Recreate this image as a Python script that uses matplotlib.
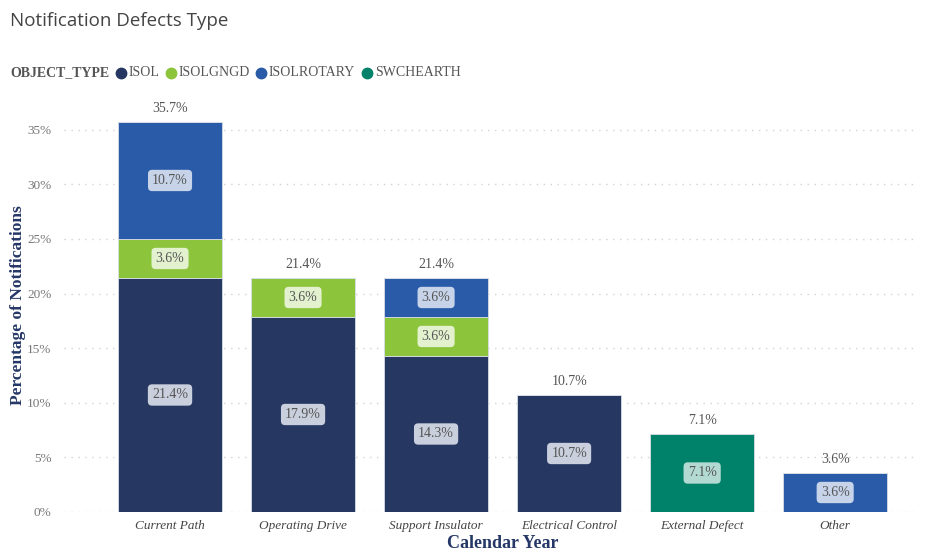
import matplotlib.pyplot as plt
from matplotlib.lines import Line2D
import numpy as np

# notification counts per defect type, split by object type
categories = ["Current Path", "Operating Drive", "Support Insulator",
              "Electrical Control", "External Defect", "Other"]
object_types = ["ISOL", "ISOLGNGD", "ISOLROTARY", "SWCHEARTH"]
isol = [6, 5, 4, 3, 0, 0]
isolgngd = [1, 1, 1, 0, 0, 0]
isolrotary = [3, 0, 1, 0, 0, 1]
swchearth = [0, 0, 0, 0, 2, 0]
total_notifications = 28
y_ticks = [0, 5, 10, 15, 20, 25, 30, 35]

colors = ["#263862", "#8cc43c", "#2a5ba8", "#00826a"]
label_bg = ["#c9cfdc", "#e3f1cf", "#c6d3e8", "#b3dad2"]

series = [isol, isolgngd, isolrotary, swchearth]
pct = [np.array(s) / total_notifications * 100 for s in series]

serif = ["Liberation Serif", "DejaVu Serif"]
plt.rcParams["font.family"] = serif

fig = plt.figure(figsize=(9.28, 5.52), dpi=100)
ax = fig.add_axes([64 / 928, 40 / 552, 851 / 928, 415 / 552])

x = np.arange(len(categories))
bottom = np.zeros(len(categories))
for vals, col, bg in zip(pct, colors, label_bg):
    ax.bar(x, vals, width=0.78, bottom=bottom, color=col,
           edgecolor="#d8dde6", linewidth=0.6, zorder=2)
    for xi, v, b in zip(x, vals, bottom):
        if v > 0:
            ax.text(xi, b + v / 2, f"{v:.1f}%", ha="center", va="center",
                    fontsize=10, color="#555555", zorder=3,
                    bbox=dict(boxstyle="round,pad=0.3,rounding_size=0.3",
                              fc=bg, ec="none"))
    bottom += vals

for xi, t in zip(x, bottom):
    ax.annotate(f"{t:.1f}%", (xi, t), xytext=(0, 5), textcoords="offset points",
                ha="center", va="bottom", fontsize=10, color="#555555")

ax.set_xlim(-0.797, 5.6)
ax.set_ylim(0, 38)
ax.set_yticks(y_ticks)
ax.set_yticklabels([f"{t}%" for t in y_ticks], fontsize=9.5, color="#777777")
ax.set_xticks(x)
ax.set_xticklabels(categories, fontsize=9.5, color="#444444", style="italic")
ax.tick_params(length=0, pad=6)
ax.tick_params(axis="y", pad=9)
ax.yaxis.grid(True, linestyle=(0, (1, 4)), color="#d2d2d2", linewidth=1, zorder=0)
ax.set_axisbelow(True)
for s in ax.spines.values():
    s.set_visible(False)

ax.set_xlabel("Calendar Year", fontsize=13, fontweight="bold", color="#253766")
ax.xaxis.set_label_coords((503 - 64) / 851, -23 / 415)
ax.set_ylabel("Percentage of Notifications", fontsize=12.5, fontweight="bold",
              color="#253766")
ax.yaxis.set_label_coords((26 - 64) / 851, (512 - 305) / 415)

fig.text(10 / 928, 1 - 21 / 552, "Notification Defects Type", fontsize=13.5,
         family=["Open Sans", "DejaVu Sans"], color="#444444", va="center")

# legend row
ly = 1 - 73 / 552
fig.text(10 / 928, ly, "OBJECT_TYPE", fontsize=10, fontweight="bold",
         color="#555555", va="center")
legend_x = [121, 171, 261, 367]
for name, col, lx in zip(object_types, colors, legend_x):
    fig.add_artist(Line2D([lx / 928], [ly], marker="o", markersize=7.5,
                          color=col, linestyle="none", transform=fig.transFigure))
    fig.text((lx + 8) / 928, ly, name, fontsize=10, color="#555555", va="center")

fig.savefig("out.png", dpi=100)
